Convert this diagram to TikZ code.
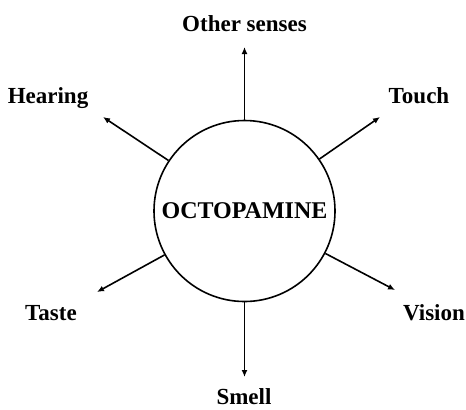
\documentclass[tikz,border=0pt]{standalone}
\usepackage{fontspec}
\setmainfont{Liberation Serif}
\usetikzlibrary{arrows.meta}
\begin{document}
\begin{tikzpicture}[x=1bp, y=-1bp, line width=1.6bp,
		sense/.style={anchor=base, inner sep=0pt, font=\fontsize{23bp}{26bp}\selectfont\bfseries},
		link/.style={-{Latex[length=7bp,width=6bp]}}]
	\useasboundingbox (0,0) rectangle (466,409);
	
	\node[draw, circle, minimum size=181bp, inner sep=0pt, font=\fontsize{24bp}{26bp}\selectfont\bfseries] (oct) at (244.5,211) {OCTOPAMINE};
	
	\node[sense] (s1) at (244.5,31.7) {Other senses};
	\node[sense] (s2) at (419,103.3) {Touch};
	\node[sense] (s3) at (434,320) {Vision};
	\node[sense] (s4) at (244,404) {Smell};
	\node[sense] (s5) at (51,320) {Taste};
	\node[sense] (s6) at (48,103.3) {Hearing};
	
	\coordinate (a1) at (244.5,47);
	\coordinate (a2) at (380,117);
	\coordinate (a3) at (395,290);
	\coordinate (a4) at (244.5,377);
	\coordinate (a5) at (97,292);
	\coordinate (a6) at (103,117);
	
	\foreach \i in {1,...,6}
		\draw[link] (oct) -- (a\i);
\end{tikzpicture}
\end{document}
